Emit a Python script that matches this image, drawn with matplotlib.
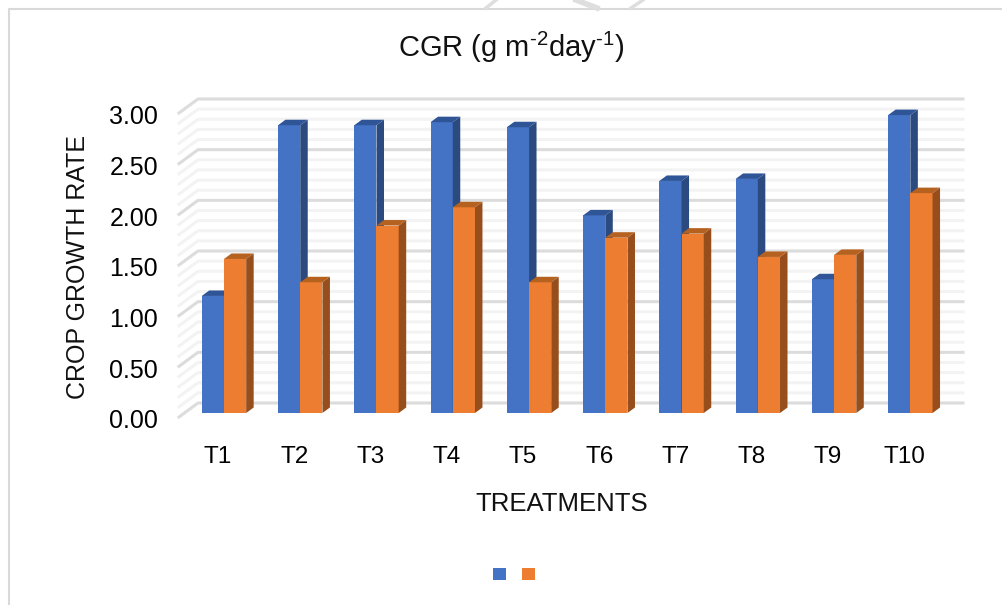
import matplotlib
matplotlib.use("Agg")
import matplotlib.pyplot as plt
from matplotlib.patches import Polygon, Patch
from matplotlib.lines import Line2D
import numpy as np

plt.rcParams['font.family'] = ['Liberation Sans', 'DejaVu Sans']
plt.rcParams['mathtext.fontset'] = 'custom'
plt.rcParams['mathtext.rm'] = 'Liberation Sans'
plt.rcParams['mathtext.default'] = 'rm'

categories = ['T1', 'T2', 'T3', 'T4', 'T5', 'T6', 'T7', 'T8', 'T9', 'T10']
series_a = [1.155, 2.84, 2.84, 2.87, 2.82, 1.95, 2.29, 2.31, 1.32, 2.94]
series_b = [1.52, 1.29, 1.85, 2.03, 1.29, 1.73, 1.77, 1.54, 1.56, 2.17]
y_ticks = [0, 0.5, 1, 1.5, 2, 2.5, 3]
y_labels = ['0.00', '0.50', '1.00', '1.50', '2.00', '2.50', '3.00']
minor_ticks = [i / 10 for i in range(31) if i % 5]

W, H = 1003, 605
fig = plt.figure(figsize=(W / 100, H / 100), dpi=100)
fig.patch.set_facecolor('white')

# Axes = front plane of the 3D box (pixels)
px_l, px_r, px_0, px_3 = 179, 944, 419, 115
ax = fig.add_axes([px_l / W, 1 - px_0 / H, (px_r - px_l) / W, (px_0 - px_3) / H])
ax.set_xlim(-0.511, 9.52)
ax.set_ylim(0, 3)
ax.patch.set_alpha(0)
for s in ax.spines.values():
    s.set_visible(False)

ux = 76.26   # px per category
uy = (px_0 - px_3) / 3  # px per unit

# back wall offset, bar plane offset, bar depth
back_dx, back_dy = 19 / ux, 16 / uy
bar_dx, bar_dy = 6 / ux, 6 / uy
dep_x, dep_y = 7.5 / ux, 5.5 / uy
bw = 22.2 / ux


def wall(vals, color, lw):
    for v in vals:
        ax.plot([0 - 0.511, -0.511 + back_dx, 9.52 + back_dx],
                [v + 2 / uy, v + back_dy, v + back_dy],
                color=color, lw=lw, clip_on=False, zorder=1,
                solid_joinstyle='round')


wall(minor_ticks, '#f3f3f3', 2.2)
wall(y_ticks, '#dcdcdc', 2.2)


def bars(xs, vals, front, top, side, z):
    ax.bar(xs, vals, width=bw, bottom=bar_dy, color=front, align='edge',
           zorder=z, clip_on=False, linewidth=0)
    for x, v in zip(xs, vals):
        x1 = x + bw
        y0, y1 = bar_dy, bar_dy + v
        ax.add_patch(Polygon([(x1, y0), (x1 + dep_x, y0 + dep_y),
                              (x1 + dep_x, y1 + dep_y), (x1, y1)],
                             closed=True, fc=side, ec='none', zorder=z,
                             clip_on=False))
        ax.add_patch(Polygon([(x, y1), (x + dep_x, y1 + dep_y),
                              (x1 + dep_x, y1 + dep_y), (x1, y1)],
                             closed=True, fc=top, ec='none', zorder=z,
                             clip_on=False))


pos = np.arange(len(categories))
centre = pos + bar_dx
bars(centre - bw, series_a, '#4472C4', '#2F5597', '#2A4A80', 3)
bars(centre, series_b, '#ED7D31', '#B5611F', '#974E1D', 4)

ax.set_xticks(pos)
ax.set_xticklabels(categories, fontsize=17.5)
ax.set_yticks(y_ticks)
ax.set_yticklabels(y_labels, fontsize=18)
ax.tick_params(axis='both', length=0)
ax.tick_params(axis='x', pad=19.5)
ax.tick_params(axis='y', pad=15)

fig.text(511 / W, 1 - 47 / H, r'CGR (g m$^{\text{-}2}$day$^{\text{-}1}$)', fontsize=21,
         ha='center', va='center', color='#111111')
fig.text(78 / W, 1 - 267 / H, 'CROP GROWTH RATE', rotation=90, fontsize=18,
         ha='center', va='center', color='#111111')
fig.text(562 / W, 1 - 504 / H, 'TREATMENTS', fontsize=18.5,
         ha='center', va='center', color='#111111')

handles = [Patch(fc='#4472C4', ec='none'), Patch(fc='#ED7D31', ec='none')]
fs = 9.36
fig.legend(handles, ['', ''], ncol=2, frameon=False, fontsize=fs,
           loc='center', bbox_to_anchor=(514 / W, 1 - 574.5 / H),
           handlelength=1, handleheight=1, handletextpad=0,
           columnspacing=16 / 13, borderpad=0, borderaxespad=0)

# Page border and watermark fragments
border = '#d9d9d9'
fig.add_artist(Line2D([9 / W, 9 / W, 1], [0, 1 - 9 / H, 1 - 9 / H], color=border, lw=1.5))
for a, b, lw in [((486, 8), (496, 0), 2.5), ((576, 0), (597, 8), 4), ((631, 8), (643, 0), 2.5)]:
    fig.add_artist(Line2D([a[0] / W, b[0] / W], [1 - a[1] / H, 1 - b[1] / H],
                          color='#dedede', lw=lw))

fig.savefig('out.png', dpi=100)
